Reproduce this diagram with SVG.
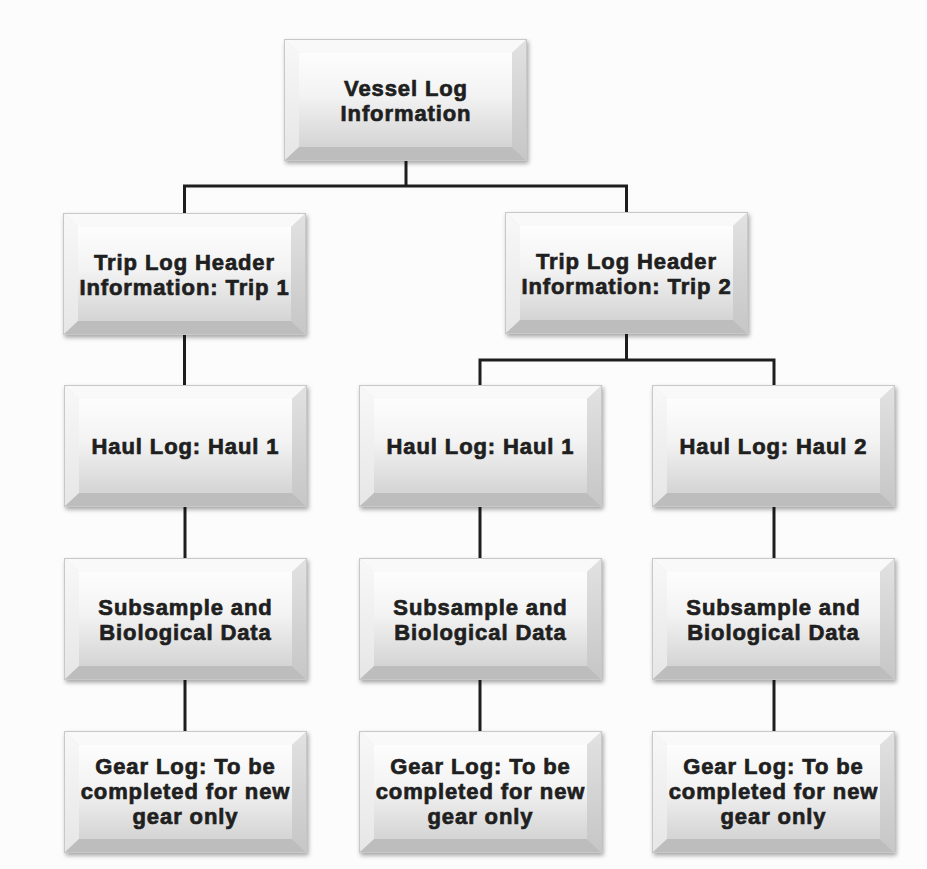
<svg xmlns="http://www.w3.org/2000/svg" xmlns:xlink="http://www.w3.org/1999/xlink" width="927" height="869" viewBox="0 0 927 869">
<style>
.lbl{font-family:"Liberation Sans",Arial,sans-serif;font-weight:bold;font-size:22px;letter-spacing:0.9px;fill:#1f1f1f;stroke:#1f1f1f;stroke-width:0.7;text-anchor:middle}
.conn{fill:none;stroke:#1e1e1e;stroke-width:3}
</style>
<defs>
<linearGradient id="face" x1="0" y1="0" x2="0" y2="1">
<stop offset="0" stop-color="#fdfdfd"/>
<stop offset="0.45" stop-color="#f3f3f3"/>
<stop offset="1" stop-color="#d4d4d4"/>
</linearGradient>
<linearGradient id="rbev" x1="0" y1="0" x2="0" y2="1">
<stop offset="0" stop-color="#e2e2e2"/>
<stop offset="1" stop-color="#c6c6c6"/>
</linearGradient>
<linearGradient id="lbev" x1="0" y1="0" x2="0" y2="1">
<stop offset="0" stop-color="#f8f8f8"/>
<stop offset="1" stop-color="#e6e6e6"/>
</linearGradient>
<filter id="sh" x="-10%" y="-10%" width="125%" height="130%">
<feDropShadow dx="1.5" dy="2.5" stdDeviation="2" flood-color="#000" flood-opacity="0.35"/>
</filter>
<g id="box">
<rect x="0" y="0" width="243" height="122" fill="#dcdcdc" filter="url(#sh)"/>
<polygon points="0,0 243,0 228,14 15,14" fill="#f9f9f9"/>
<polygon points="0,0 15,14 15,108 0,122" fill="url(#lbev)"/>
<polygon points="243,0 243,122 228,108 228,14" fill="url(#rbev)"/>
<polygon points="0,122 15,108 228,108 243,122" fill="#bdbdbd"/>
<rect x="15" y="14" width="213" height="94" fill="url(#face)"/>
<rect x="0.5" y="0.5" width="242" height="121" fill="none" stroke="#c8c8c8" stroke-width="1"/>
</g>
</defs>
<rect width="927" height="869" fill="#fcfcfc"/>
<g id="connectors">
<path class="conn" d="M406 161V186"/>
<path class="conn" d="M184.5 213V186H626.5V212"/>
<path class="conn" d="M184.5 335V385"/>
<path class="conn" d="M626.5 334V360"/>
<path class="conn" d="M480 385V360H774V385"/>
<path class="conn" d="M185 507V558"/>
<path class="conn" d="M480 507V558"/>
<path class="conn" d="M774 507V558"/>
<path class="conn" d="M185 680V731"/>
<path class="conn" d="M480 680V731"/>
<path class="conn" d="M774 680V731"/>
</g>
<g id="vessel">
<use xlink:href="#box" x="284" y="39"/>
<text class="lbl" x="406" y="96">Vessel Log</text>
<text class="lbl" x="406" y="121">Information</text>
</g>
<g id="trip1">
<use xlink:href="#box" x="63" y="213"/>
<text class="lbl" x="184.5" y="270">Trip Log Header</text>
<text class="lbl" x="184.5" y="295">Information: Trip 1</text>
</g>
<g id="trip2">
<use xlink:href="#box" x="505" y="212"/>
<text class="lbl" x="626.5" y="269">Trip Log Header</text>
<text class="lbl" x="626.5" y="294">Information: Trip 2</text>
</g>
<g id="haul1a">
<use xlink:href="#box" x="64" y="385"/>
<text class="lbl" x="185.5" y="454">Haul Log: Haul 1</text>
</g>
<g id="haul1b">
<use xlink:href="#box" x="359" y="385"/>
<text class="lbl" x="480.5" y="454">Haul Log: Haul 1</text>
</g>
<g id="haul2">
<use xlink:href="#box" x="652" y="385"/>
<text class="lbl" x="773.5" y="454">Haul Log: Haul 2</text>
</g>
<g id="sub1">
<use xlink:href="#box" x="64" y="558"/>
<text class="lbl" x="185.5" y="615">Subsample and</text>
<text class="lbl" x="185.5" y="640">Biological Data</text>
</g>
<g id="sub2">
<use xlink:href="#box" x="359" y="558"/>
<text class="lbl" x="480.5" y="615">Subsample and</text>
<text class="lbl" x="480.5" y="640">Biological Data</text>
</g>
<g id="sub3">
<use xlink:href="#box" x="652" y="558"/>
<text class="lbl" x="773.5" y="615">Subsample and</text>
<text class="lbl" x="773.5" y="640">Biological Data</text>
</g>
<g id="gear1">
<use xlink:href="#box" x="64" y="731"/>
<text class="lbl" x="185.5" y="774">Gear Log: To be</text>
<text class="lbl" x="185.5" y="799">completed for new</text>
<text class="lbl" x="185.5" y="824">gear only</text>
</g>
<g id="gear2">
<use xlink:href="#box" x="359" y="731"/>
<text class="lbl" x="480.5" y="774">Gear Log: To be</text>
<text class="lbl" x="480.5" y="799">completed for new</text>
<text class="lbl" x="480.5" y="824">gear only</text>
</g>
<g id="gear3">
<use xlink:href="#box" x="652" y="731"/>
<text class="lbl" x="773.5" y="774">Gear Log: To be</text>
<text class="lbl" x="773.5" y="799">completed for new</text>
<text class="lbl" x="773.5" y="824">gear only</text>
</g>
</svg>
